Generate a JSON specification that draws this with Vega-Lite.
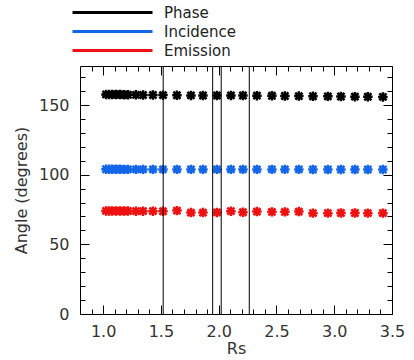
{
  "$schema": "https://vega.github.io/schema/vega-lite/v6.json",
  "width": 312,
  "height": 248,
  "autosize": {"type": "none"},
  "padding": {"left": 80, "top": 66, "right": 22, "bottom": 46},
  "background": "white",
  "config": {
    "view": {"stroke": "black", "strokeWidth": 1},
    "font": "DejaVu Sans",
    "axis": {
      "domain": false,
      "grid": false,
      "tickColor": "black",
      "tickWidth": 1,
      "labelFont": "DejaVu Sans",
      "labelColor": "#333",
      "labelFontSize": 16,
      "titleFont": "DejaVu Sans",
      "titleColor": "#333",
      "titleFontSize": 16,
      "titleFontWeight": "normal"
    }
  },
  "datasets": {
    "pts": [
      {"rs": 1.025, "angle": 157.6, "series": "Phase"},
      {"rs": 1.051, "angle": 157.6, "series": "Phase"},
      {"rs": 1.077, "angle": 157.5, "series": "Phase"},
      {"rs": 1.111, "angle": 157.5, "series": "Phase"},
      {"rs": 1.146, "angle": 157.5, "series": "Phase"},
      {"rs": 1.181, "angle": 157.4, "series": "Phase"},
      {"rs": 1.215, "angle": 157.4, "series": "Phase"},
      {"rs": 1.284, "angle": 157.3, "series": "Phase"},
      {"rs": 1.345, "angle": 157.2, "series": "Phase"},
      {"rs": 1.431, "angle": 157.2, "series": "Phase"},
      {"rs": 1.518, "angle": 157.1, "series": "Phase"},
      {"rs": 1.639, "angle": 157.0, "series": "Phase"},
      {"rs": 1.760, "angle": 156.9, "series": "Phase"},
      {"rs": 1.864, "angle": 156.8, "series": "Phase"},
      {"rs": 1.985, "angle": 156.8, "series": "Phase"},
      {"rs": 2.106, "angle": 156.9, "series": "Phase"},
      {"rs": 2.210, "angle": 156.8, "series": "Phase"},
      {"rs": 2.331, "angle": 156.7, "series": "Phase"},
      {"rs": 2.461, "angle": 156.6, "series": "Phase"},
      {"rs": 2.573, "angle": 156.5, "series": "Phase"},
      {"rs": 2.694, "angle": 156.4, "series": "Phase"},
      {"rs": 2.816, "angle": 156.3, "series": "Phase"},
      {"rs": 2.945, "angle": 156.2, "series": "Phase"},
      {"rs": 3.058, "angle": 156.1, "series": "Phase"},
      {"rs": 3.179, "angle": 156.0, "series": "Phase"},
      {"rs": 3.291, "angle": 155.9, "series": "Phase"},
      {"rs": 3.421, "angle": 155.8, "series": "Phase"},
      {"rs": 1.025, "angle": 103.9, "series": "Incidence"},
      {"rs": 1.051, "angle": 103.9, "series": "Incidence"},
      {"rs": 1.077, "angle": 103.9, "series": "Incidence"},
      {"rs": 1.111, "angle": 103.9, "series": "Incidence"},
      {"rs": 1.146, "angle": 103.9, "series": "Incidence"},
      {"rs": 1.181, "angle": 103.8, "series": "Incidence"},
      {"rs": 1.215, "angle": 103.8, "series": "Incidence"},
      {"rs": 1.284, "angle": 103.8, "series": "Incidence"},
      {"rs": 1.345, "angle": 103.8, "series": "Incidence"},
      {"rs": 1.431, "angle": 103.8, "series": "Incidence"},
      {"rs": 1.518, "angle": 103.8, "series": "Incidence"},
      {"rs": 1.639, "angle": 103.8, "series": "Incidence"},
      {"rs": 1.760, "angle": 103.8, "series": "Incidence"},
      {"rs": 1.864, "angle": 103.8, "series": "Incidence"},
      {"rs": 1.985, "angle": 103.8, "series": "Incidence"},
      {"rs": 2.106, "angle": 103.8, "series": "Incidence"},
      {"rs": 2.210, "angle": 103.8, "series": "Incidence"},
      {"rs": 2.331, "angle": 103.8, "series": "Incidence"},
      {"rs": 2.461, "angle": 103.8, "series": "Incidence"},
      {"rs": 2.573, "angle": 103.8, "series": "Incidence"},
      {"rs": 2.694, "angle": 103.8, "series": "Incidence"},
      {"rs": 2.816, "angle": 103.7, "series": "Incidence"},
      {"rs": 2.945, "angle": 103.7, "series": "Incidence"},
      {"rs": 3.058, "angle": 103.7, "series": "Incidence"},
      {"rs": 3.179, "angle": 103.7, "series": "Incidence"},
      {"rs": 3.291, "angle": 103.7, "series": "Incidence"},
      {"rs": 3.421, "angle": 103.7, "series": "Incidence"},
      {"rs": 1.025, "angle": 74.0, "series": "Emission"},
      {"rs": 1.051, "angle": 74.0, "series": "Emission"},
      {"rs": 1.077, "angle": 74.0, "series": "Emission"},
      {"rs": 1.111, "angle": 74.0, "series": "Emission"},
      {"rs": 1.146, "angle": 73.9, "series": "Emission"},
      {"rs": 1.181, "angle": 73.9, "series": "Emission"},
      {"rs": 1.215, "angle": 73.9, "series": "Emission"},
      {"rs": 1.284, "angle": 73.8, "series": "Emission"},
      {"rs": 1.345, "angle": 73.8, "series": "Emission"},
      {"rs": 1.431, "angle": 73.8, "series": "Emission"},
      {"rs": 1.518, "angle": 73.7, "series": "Emission"},
      {"rs": 1.639, "angle": 74.2, "series": "Emission"},
      {"rs": 1.760, "angle": 72.8, "series": "Emission"},
      {"rs": 1.864, "angle": 72.8, "series": "Emission"},
      {"rs": 1.985, "angle": 72.9, "series": "Emission"},
      {"rs": 2.106, "angle": 73.8, "series": "Emission"},
      {"rs": 2.210, "angle": 73.0, "series": "Emission"},
      {"rs": 2.331, "angle": 73.5, "series": "Emission"},
      {"rs": 2.461, "angle": 73.3, "series": "Emission"},
      {"rs": 2.573, "angle": 73.3, "series": "Emission"},
      {"rs": 2.694, "angle": 73.5, "series": "Emission"},
      {"rs": 2.816, "angle": 72.4, "series": "Emission"},
      {"rs": 2.945, "angle": 72.4, "series": "Emission"},
      {"rs": 3.058, "angle": 72.5, "series": "Emission"},
      {"rs": 3.179, "angle": 72.5, "series": "Emission"},
      {"rs": 3.291, "angle": 72.4, "series": "Emission"},
      {"rs": 3.421, "angle": 72.4, "series": "Emission"}
    ],
    "lines": [
      {"rs": 1.52},
      {"rs": 1.948},
      {"rs": 2.022},
      {"rs": 2.265}
    ]
  },
  "resolve": {"axis": {"x": "independent", "y": "independent"}},
  "layer": [
    {
      "data": {"name": "pts"},
      "mark": {
        "type": "point",
        "shape": "M-1,0L1,0M0,-1L0,1M-0.75,-0.75L0.75,0.75M-0.75,0.75L0.75,-0.75",
        "filled": false,
        "size": 90,
        "strokeWidth": 2.5,
        "opacity": 1
      },
      "encoding": {
        "x": {
          "field": "rs",
          "type": "quantitative",
          "scale": {"domain": [0.8, 3.5], "nice": false, "zero": false},
          "title": "Rs",
          "axis": {
            "orient": "bottom",
            "values": [1.0, 1.5, 2.0, 2.5, 3.0, 3.5],
            "format": ".1f",
            "tickSize": -9,
            "labelPadding": 18,
            "labelFlush": false,
            "labelOverlap": false,
            "titlePadding": 1
          }
        },
        "y": {
          "field": "angle",
          "type": "quantitative",
          "scale": {"domain": [0, 178], "nice": false},
          "title": "Angle (degrees)",
          "axis": {
            "orient": "left",
            "values": [0, 50, 100, 150],
            "tickSize": -9,
            "labelPadding": 20,
            "labelFlush": false,
            "labelOverlap": false,
            "titlePadding": 9
          }
        },
        "color": {
          "field": "series",
          "type": "nominal",
          "scale": {"domain": ["Phase", "Incidence", "Emission"], "range": ["#000000", "#1466e8", "#ee1111"]},
          "legend": {
            "title": null,
            "orient": "none",
            "legendX": 25,
            "legendY": -61,
            "symbolType": "M-8,0L8,0",
            "symbolSize": 100,
            "symbolStrokeWidth": 3,
            "labelFontSize": 15,
            "labelFont": "DejaVu Sans",
            "labelColor": "#222",
            "labelOffset": 44,
            "rowPadding": 3,
            "padding": 0
          }
        }
      }
    },
    {
      "data": {"name": "lines"},
      "mark": {"type": "rule", "color": "black", "strokeWidth": 1},
      "encoding": {
        "x": {
          "field": "rs",
          "type": "quantitative",
          "axis": {
            "orient": "top",
            "title": null,
            "labels": false,
            "values": [1.0, 1.5, 2.0, 2.5, 3.0, 3.5],
            "tickSize": -9
          }
        },
        "y": {
          "datum": 0,
          "type": "quantitative",
          "axis": {
            "orient": "right",
            "title": null,
            "labels": false,
            "values": [0, 50, 100, 150],
            "tickSize": -9
          }
        },
        "y2": {"datum": 178}
      }
    },
    {
      "data": {"name": "lines"},
      "mark": {"type": "rule", "color": "black", "strokeWidth": 1, "opacity": 0},
      "encoding": {
        "x": {
          "field": "rs",
          "type": "quantitative",
          "axis": {
            "orient": "bottom",
            "title": null,
            "labels": false,
            "values": [0.9, 1.1, 1.2, 1.3, 1.4, 1.6, 1.7, 1.8, 1.9, 2.1, 2.2, 2.3, 2.4, 2.6, 2.7, 2.8, 2.9, 3.1, 3.2, 3.3, 3.4],
            "tickSize": -5
          }
        },
        "y": {
          "datum": 0,
          "type": "quantitative",
          "axis": {
            "orient": "left",
            "title": null,
            "labels": false,
            "values": [10, 20, 30, 40, 60, 70, 80, 90, 110, 120, 130, 140, 160, 170],
            "tickSize": -5
          }
        },
        "y2": {"datum": 178}
      }
    },
    {
      "data": {"name": "lines"},
      "mark": {"type": "rule", "color": "black", "strokeWidth": 1, "opacity": 0},
      "encoding": {
        "x": {
          "field": "rs",
          "type": "quantitative",
          "axis": {
            "orient": "top",
            "title": null,
            "labels": false,
            "values": [0.9, 1.1, 1.2, 1.3, 1.4, 1.6, 1.7, 1.8, 1.9, 2.1, 2.2, 2.3, 2.4, 2.6, 2.7, 2.8, 2.9, 3.1, 3.2, 3.3, 3.4],
            "tickSize": -5
          }
        },
        "y": {
          "datum": 0,
          "type": "quantitative",
          "axis": {
            "orient": "right",
            "title": null,
            "labels": false,
            "values": [10, 20, 30, 40, 60, 70, 80, 90, 110, 120, 130, 140, 160, 170],
            "tickSize": -5
          }
        },
        "y2": {"datum": 178}
      }
    }
  ]
}
